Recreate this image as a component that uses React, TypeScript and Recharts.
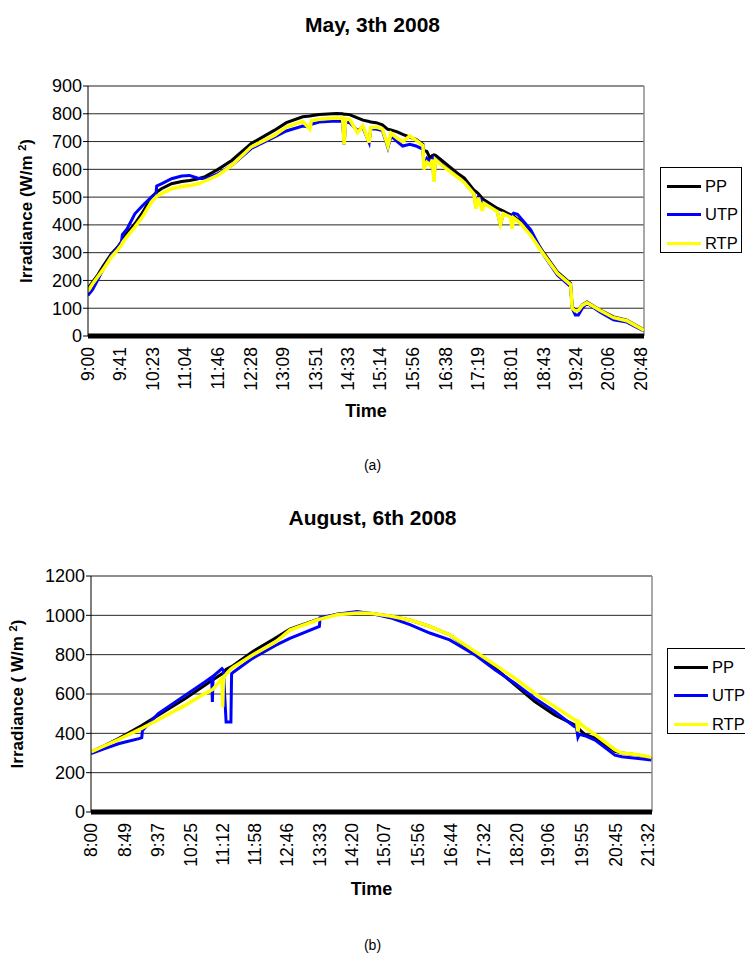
import React from 'react';
import { LineChart, Line, XAxis, YAxis, CartesianGrid, ReferenceLine } from 'recharts';

// ---- chart (a): May, 3th 2008 ----
const timesA = [
  '9:00', '9:06', '9:13', '9:19', '9:30', '9:38', '9:43', '9:44', '9:50', '10:00',
  '10:10', '10:21', '10:27', '10:28', '10:34', '10:47', '11:00', '11:10', '11:21', '11:30',
  '11:46', '12:04', '12:29', '12:59', '13:14', '13:35', '13:44', '13:46', '13:56', '14:18',
  '14:26', '14:28', '14:30', '14:35', '14:45', '14:52', '15:00', '15:02', '15:09', '15:17',
  '15:24', '15:28', '15:36', '15:43', '15:52', '16:00', '16:09', '16:10', '16:14', '16:18',
  '16:21', '16:23', '16:25', '16:34', '16:55', '17:02', '17:14', '17:17', '17:20', '17:25',
  '17:27', '17:44', '17:48', '17:52', '18:01', '18:03', '18:05', '18:10', '18:14', '18:27',
  '18:44', '19:01', '19:18', '19:20', '19:24', '19:28', '19:33', '19:39', '19:56', '20:13',
  '20:30', '20:49', '20:52',
];
const ppA = [
  172, 195, 222, 250, 296, 320, 340, 348, 370, 404,
  445, 500, 515, 518, 530, 548, 556, 560, 566, 574,
  599, 632, 693, 741, 768, 789, 792, 793, 797, 801,
  800, 798, 798, 797, 785, 777, 772, 770, 768, 760,
  744, 742, 735, 726, 716, 708, 690, 668, 664, 640,
  650, 652, 650, 630, 582, 568, 526, 520, 512, 495,
  490, 460, 455, 450, 436, 434, 432, 420, 412, 370,
  298, 231, 189, 105, 92, 95, 112, 122, 93, 69,
  57, 27, 22,
];
const utpA = [
  146, 168, 205, 238, 292, 318, 340, 365, 385, 440,
  470, 500, 510, 540, 548, 566, 576, 578, 568, 566,
  584, 614, 675, 717, 738, 756, 752, 762, 770, 774,
  772, 690, 770, 768, 740, 750, 696, 745, 745, 740,
  678, 720, 700, 684, 690, 684, 672, 610, 640, 630,
  640, 560, 638, 615, 570, 555, 515, 462, 500, 485,
  480, 450, 400, 440, 432, 436, 442, 438, 425, 382,
  290, 220, 178, 100, 76, 76, 100, 118, 86, 58,
  50, 22, 18,
];
const rtpA = [
  162, 188, 215, 238, 285, 310, 328, 335, 358, 392,
  430, 482, 500, 503, 512, 530, 538, 542, 548, 558,
  578, 614, 681, 723, 752, 772, 745, 775, 780, 785,
  784, 690, 782, 780, 732, 756, 696, 750, 752, 745,
  684, 730, 712, 700, 720, 705, 685, 600, 625, 615,
  635, 555, 635, 612, 568, 552, 512, 458, 498, 450,
  478, 448, 402, 440, 428, 386, 425, 414, 405, 362,
  292, 226, 185, 100, 90, 92, 110, 120, 92, 66,
  55, 25, 20,
];
const tickLabelsA = [
  '9:00', '9:41', '10:23', '11:04', '11:46', '12:28', '13:09', '13:51', '14:33',
  '15:14', '15:56', '16:38', '17:19', '18:01', '18:43', '19:24', '20:06', '20:48',
];
const yTicksA = [0, 100, 200, 300, 400, 500, 600, 700, 800, 900];

// ---- chart (b): August, 6th 2008 ----
const timesB = [
  '8:00', '8:20', '8:40', '8:50', '9:10', '9:14', '9:15', '9:38', '10:17', '10:46',
  '10:56', '10:57', '10:58', '11:11', '11:12', '11:13', '11:17', '11:24', '11:25', '11:28',
  '11:55', '12:29', '12:50', '13:33', '13:34', '13:59', '14:28', '14:47', '15:16', '15:45',
  '16:14', '16:43', '17:20', '17:49', '18:18', '18:47', '19:16', '19:45', '19:48', '19:50',
  '19:52', '20:00', '20:15', '20:44', '20:54', '21:18', '21:37',
];
const ppB = [
  305, 338, 373, 392, 432, 440, 442, 492, 576, 644,
  668, 670, 672, 703, 705, 706, 725, 738, 740, 746,
  814, 885, 930, 983, 983, 1005, 1014, 1010, 997, 976,
  944, 901, 808, 732, 646, 562, 494, 443, 440, 435,
  420, 395, 376, 308, 300, 290, 275,
];
const utpB = [
  297, 322, 347, 356, 373, 378, 415, 500, 593, 661,
  686, 559, 690, 729, 725, 722, 458, 458, 703, 712,
  780, 847, 883, 944, 988, 1005, 1020, 1010, 988, 953,
  910, 875, 799, 723, 655, 579, 511, 434, 430, 380,
  395, 388, 366, 289, 281, 272, 264,
];
const rtpB = [
  305, 337, 368, 385, 419, 425, 427, 469, 542, 602,
  620, 622, 625, 678, 534, 680, 700, 728, 730, 737,
  797, 864, 925, 980, 981, 1003, 1012, 1010, 997, 976,
  944, 901, 816, 748, 680, 603, 536, 469, 465, 410,
  455, 430, 394, 317, 300, 291, 278,
];
const tickLabelsB = [
  '8:00', '8:49', '9:37', '10:25', '11:12', '11:58', '12:46', '13:33', '14:20',
  '15:07', '15:56', '16:44', '17:32', '18:20', '19:06', '19:55', '20:45', '21:32',
];
const yTicksB = [0, 200, 400, 600, 800, 1000, 1200];

const seriesNames = ['PP', 'UTP', 'RTP'];
const seriesColors = ['#000000', '#0000ff', '#ffff00'];

const FONT = '"Liberation Sans", Arial, sans-serif';

const toMin = (s: string) => {
  const [h, m] = s.split(':').map(Number);
  return h * 60 + m;
};
const fmtMin = (v: number) => `${Math.floor(v / 60)}:${String(v % 60).padStart(2, '0')}`;

const buildRows = (times: string[], pp: number[], utp: number[], rtp: number[]) =>
  times.map((t, i) => ({ t: toMin(t), PP: pp[i], UTP: utp[i], RTP: rtp[i] }));

const dataA = buildRows(timesA, ppA, utpA, rtpA);
const dataB = buildRows(timesB, ppB, utpB, rtpB);

const RotTick = (props: any) => {
  const { x, y, payload } = props;
  const ty = y + 11;
  return (
    <text
      x={x}
      y={ty}
      transform={`rotate(-90 ${x} ${ty})`}
      textAnchor="end"
      dy="0.36em"
      fontSize={17.5}
      fontFamily={FONT}
      fill="#000"
    >
      {fmtMin(payload.value)}
    </text>
  );
};

const YTick = (props: any) => {
  const { x, y, payload } = props;
  return (
    <text x={x} y={y} textAnchor="end" dy="0.36em" fontSize={18} fontFamily={FONT} fill="#000">
      {payload.value}
    </text>
  );
};

const YTitle = ({ cx, cy, text }: { cx: number; cy: number; text: string }) => (
  <text
    x={cx}
    y={cy}
    transform={`rotate(-90 ${cx} ${cy})`}
    textAnchor="middle"
    dy="0.36em"
    fontSize={17}
    fontWeight="bold"
    fontFamily={FONT}
    fill="#000"
  >
    {text}
    <tspan fontSize={11} baselineShift="super">2</tspan>
    <tspan>)</tspan>
  </text>
);

const XTitle = ({ cx, y }: { cx: number; y: number }) => (
  <text x={cx} y={y} textAnchor="middle" fontSize={18} fontWeight="bold" fontFamily={FONT} fill="#000">
    Time
  </text>
);

const LegendBox = ({ left, top }: { left: number; top: number }) => (
  <div
    style={{
      position: 'absolute',
      left,
      top,
      width: 82,
      height: 86,
      boxSizing: 'border-box',
      border: '1px solid #000',
      background: '#fff',
      fontFamily: FONT,
      fontSize: 16.5,
      paddingTop: 4,
    }}
  >
    {seriesNames.map((n, i) => (
      <div key={n} style={{ display: 'flex', alignItems: 'center', height: 28.5, paddingLeft: 6 }}>
        <div style={{ width: 34, height: 3, background: seriesColors[i], marginRight: 4 }} />
        <span>{n}</span>
      </div>
    ))}
  </div>
);

interface PanelProps {
  data: any[];
  domain: [number, number];
  tickLabels: string[];
  yTicks: number[];
  yMax: number;
  height: number;
  margin: { top: number; right: number; bottom: number; left: number };
  yWidth: number;
  yTitle: string;
  yTitleX: number;
  timeY: number;
}

const Panel = ({ data, domain, tickLabels, yTicks, yMax, height, margin, yWidth, yTitle, yTitleX, timeY }: PanelProps) => {
  const plotTop = margin.top;
  const plotBottom = height - margin.bottom - 100;
  const plotCx = (yWidth + (745 - margin.right)) / 2;
  return (
    <LineChart width={745} height={height} data={data} margin={margin}>
      <CartesianGrid vertical={false} stroke="#000" strokeOpacity={0.85} />
      <XAxis
        dataKey="t"
        type="number"
        domain={domain}
        allowDataOverflow
        ticks={tickLabels.map(toMin)}
        interval={0}
        height={100}
        tickSize={0}
        tickMargin={0}
        tickLine={false}
        axisLine={{ stroke: '#000', strokeWidth: 5 }}
        tick={<RotTick />}
        label={{ content: () => <XTitle cx={plotCx} y={timeY} /> }}
      />
      <YAxis
        domain={[0, yMax]}
        ticks={yTicks}
        interval={0}
        width={yWidth}
        tickSize={5}
        tickMargin={1}
        tickLine={{ stroke: '#000' }}
        axisLine={{ stroke: '#000' }}
        tick={<YTick />}
        label={{ content: () => <YTitle cx={yTitleX} cy={(plotTop + plotBottom) / 2} text={yTitle} /> }}
      />
      <ReferenceLine y={yMax} stroke="#8c8c8c" strokeWidth={1.5} />
      <ReferenceLine x={domain[1]} stroke="#8c8c8c" strokeWidth={1.5} />
      <Line dataKey="PP" stroke={seriesColors[0]} strokeWidth={3} dot={false} isAnimationActive={false} />
      <Line dataKey="UTP" stroke={seriesColors[1]} strokeWidth={3} dot={false} isAnimationActive={false} />
      <Line dataKey="RTP" stroke={seriesColors[2]} strokeWidth={3.5} dot={false} isAnimationActive={false} />
    </LineChart>
  );
};

const titleStyle: React.CSSProperties = {
  position: 'absolute',
  left: 0,
  width: 745,
  textAlign: 'center',
  fontFamily: FONT,
  fontWeight: 'bold',
  fontSize: 21,
  color: '#000',
};

const captionStyle: React.CSSProperties = {
  position: 'absolute',
  left: 0,
  width: 745,
  textAlign: 'center',
  fontFamily: FONT,
  fontSize: 14,
  color: '#000',
};

export default function App() {
  return (
    <div style={{ position: 'relative', width: 745, height: 957, overflow: 'hidden', background: '#fff' }}>
      <style>{'body{margin:0}'}</style>
      <div style={{ ...titleStyle, top: 13 }}>May, 3th 2008</div>
      <div style={{ position: 'absolute', left: 0, top: 0 }}>
        <Panel
          data={dataA}
          domain={[540, 1252]}
          tickLabels={tickLabelsA}
          yTicks={yTicksA}
          yMax={900}
          height={480}
          margin={{ top: 86, right: 101, bottom: 44, left: 0 }}
          yWidth={88}
          yTitle={'Irradiance (W/m\u00a0'}
          yTitleX={26}
          timeY={417}
        />
      </div>
      <LegendBox left={660} top={167} />
      <div style={{ ...captionStyle, top: 457 }}>(a)</div>

      <div style={{ ...titleStyle, top: 506 }}>August, 6th 2008</div>
      <div style={{ position: 'absolute', left: 0, top: 480 }}>
        <Panel
          data={dataB}
          domain={[480, 1298]}
          tickLabels={tickLabelsB}
          yTicks={yTicksB}
          yMax={1200}
          height={477}
          margin={{ top: 96, right: 93, bottom: 45, left: 0 }}
          yWidth={91}
          yTitle={'Irradiance ( W/m\u00a0'}
          yTitleX={17}
          timeY={415}
        />
      </div>
      <LegendBox left={667} top={648} />
      <div style={{ ...captionStyle, top: 937 }}>(b)</div>
    </div>
  );
}
